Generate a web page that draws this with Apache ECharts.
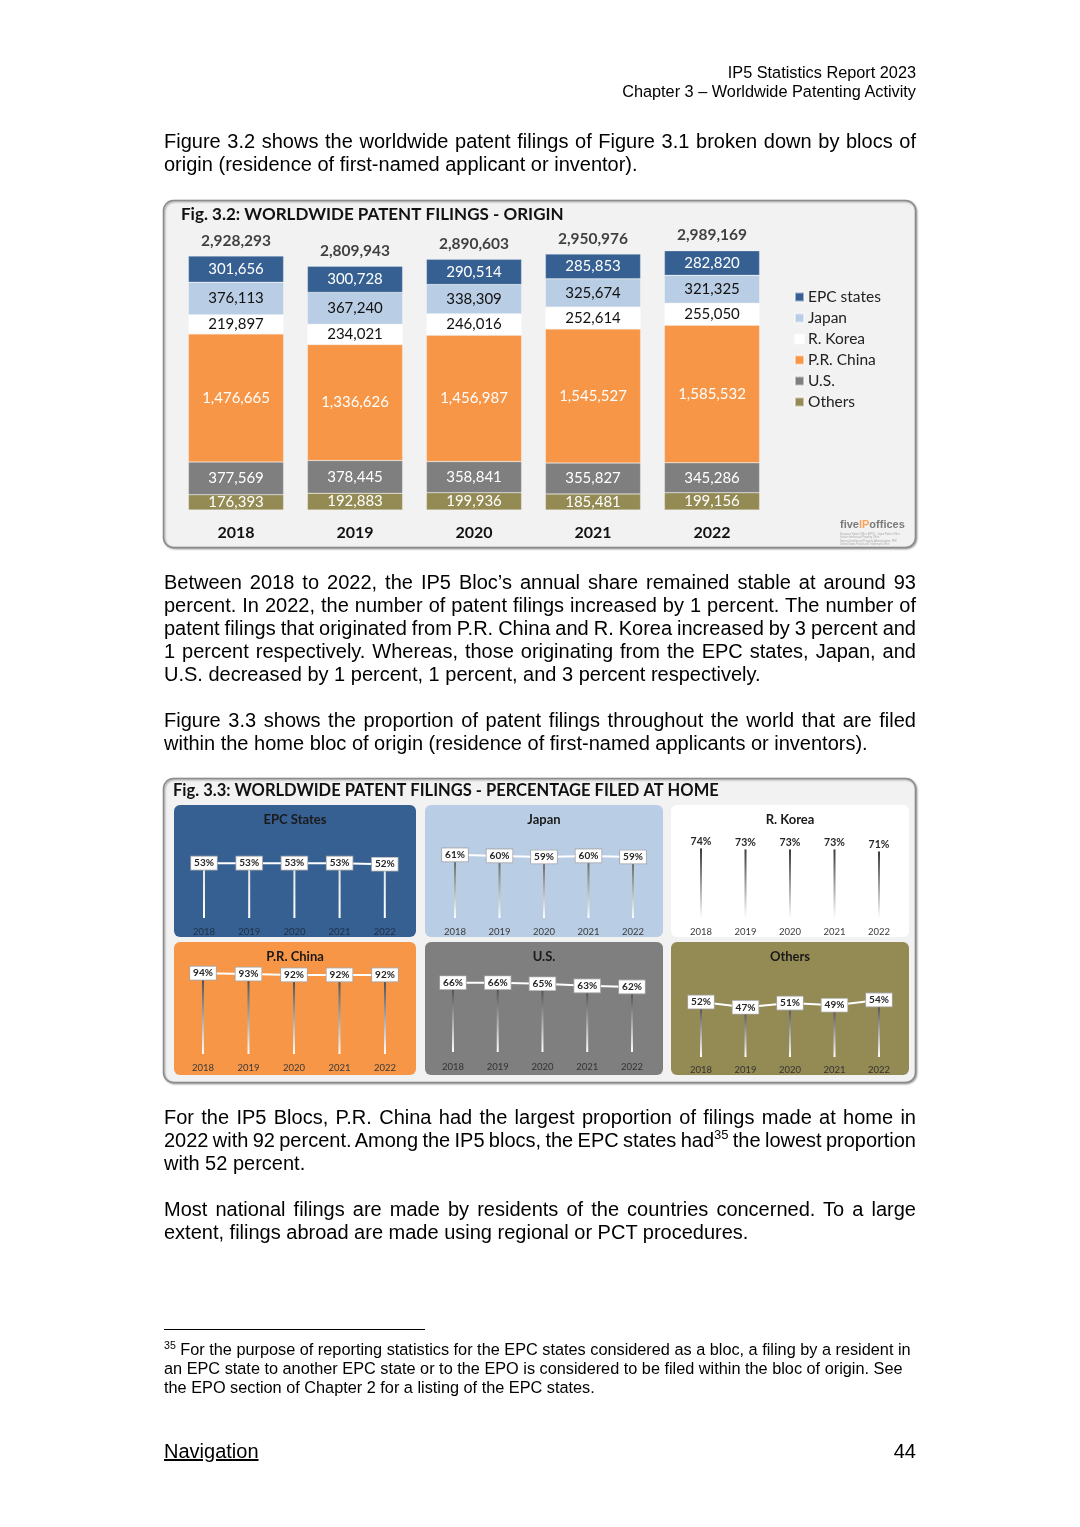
<!DOCTYPE html>
<html><head><meta charset="utf-8">
<script src="https://cdn.jsdelivr.net/npm/echarts@6/dist/echarts.min.js"></script>
<style>
html,body{margin:0;padding:0;background:#fff;}
body{width:1080px;height:1527px;position:relative;overflow:hidden;}
#chart{position:absolute;left:0;top:0;width:1080px;height:1527px;z-index:1;}
.t{position:absolute;z-index:2;font-family:'Liberation Sans',Arial,sans-serif;color:#000;}
.l{left:164px;width:752px;height:23px;line-height:23px;font-size:20px;}
.j{text-align:justify;text-align-last:justify;word-spacing:-4px;}
.h{right:164px;font-size:16.3px;height:19px;line-height:19px;text-align:right;white-space:nowrap;}
.f{left:164px;width:800px;font-size:16.3px;height:19px;line-height:19px;white-space:nowrap;}
sup{font-size:65%;vertical-align:super;line-height:0;}
</style></head>
<body>
<div class="t h" style="top:63px">IP5 Statistics Report 2023</div>
<div class="t h" style="top:82px">Chapter 3 – Worldwide Patenting Activity</div>

<div class="t l j" style="top:130px">Figure 3.2 shows the worldwide patent filings of Figure 3.1 broken down by blocs of</div>
<div class="t l" style="top:153px">origin (residence of first-named applicant or inventor).</div>

<div class="t l j" style="top:571px">Between 2018 to 2022, the IP5 Bloc’s annual share remained stable at around 93</div>
<div class="t l j" style="top:594px">percent. In 2022, the number of patent filings increased by 1 percent. The number of</div>
<div class="t l j" style="top:617px">patent filings that originated from P.R. China and R. Korea increased by 3 percent and</div>
<div class="t l j" style="top:640px">1 percent respectively. Whereas, those originating from the EPC states, Japan, and</div>
<div class="t l" style="top:663px">U.S. decreased by 1 percent, 1 percent, and 3 percent respectively.</div>

<div class="t l j" style="top:709px">Figure 3.3 shows the proportion of patent filings throughout the world that are filed</div>
<div class="t l" style="top:732px">within the home bloc of origin (residence of first-named applicants or inventors).</div>

<div class="t l j" style="top:1106px">For the IP5 Blocs, P.R. China had the largest proportion of filings made at home in</div>
<div class="t l j" style="top:1129px">2022 with 92 percent. Among the IP5 blocs, the EPC states had<sup>35</sup> the lowest proportion</div>
<div class="t l" style="top:1152px">with 52 percent.</div>

<div class="t l j" style="top:1198px">Most national filings are made by residents of the countries concerned. To a large</div>
<div class="t l" style="top:1221px">extent, filings abroad are made using regional or PCT procedures.</div>

<div style="position:absolute;left:164px;top:1329px;width:261px;height:1px;background:#000;z-index:2"></div>
<div class="t f" style="top:1340px"><sup>35</sup> For the purpose of reporting statistics for the EPC states considered as a bloc, a filing by a resident in</div>
<div class="t f" style="top:1359px">an EPC state to another EPC state or to the EPO is considered to be filed within the bloc of origin. See</div>
<div class="t f" style="top:1378px">the EPO section of Chapter 2 for a listing of the EPC states.</div>

<div class="t l" style="top:1440px;width:200px;text-decoration:underline;">Navigation</div>
<div class="t l" style="top:1440px;text-align:right;">44</div>

<div id="chart"></div>
<script>
// ---- Fig 3.2 data ----
const years = ['2018', '2019', '2020', '2021', '2022'];
const epcStates = [301656, 300728, 290514, 285853, 282820];
const japan = [376113, 367240, 338309, 325674, 321325];
const korea = [219897, 234021, 246016, 252614, 255050];
const china = [1476665, 1336626, 1456987, 1545527, 1585532];
const us = [377569, 378445, 358841, 355827, 345286];
const others = [176393, 192883, 199936, 185481, 199156];
const totals = [2928293, 2809943, 2890603, 2950976, 2989169];

// ---- Fig 3.3 data (percentage filed at home) ----
const homeEPC = [53, 53, 53, 53, 52];
const homeJapan = [61, 60, 59, 60, 59];
const homeKorea = [74, 73, 73, 73, 71];
const homeChina = [94, 93, 92, 92, 92];
const homeUS = [66, 66, 65, 63, 62];
const homeOthers = [52, 47, 51, 49, 54];

const fmt = v => String(v).replace(/\B(?=(\d{3})+(?!\d))/g, ',');
const FONT = 'Lato, "Open Sans", sans-serif';

const chart = echarts.init(document.getElementById('chart'), null, {renderer: 'canvas'});

const grids = [], xAxes = [], yAxes = [], series = [];
// main grid fig 3.2
grids.push({left: 176.5, width: 595, top: 223.8, height: 286.2});
xAxes.push({gridIndex: 0, type: 'category', data: years, axisLine: {show: false}, axisTick: {show: false},
  axisLabel: {fontFamily: FONT, fontWeight: 'bold', fontSize: 16, color: '#111', margin: 15}});
yAxes.push({gridIndex: 0, type: 'value', min: 0, max: 3300000, show: false, splitLine: {show: false}});

const stackDefs = [
  ['Others', others, '#948a54', '#fff'],
  ['U.S.', us, '#7f7f7f', '#fff'],
  ['P.R. China', china, '#f79646', '#fff'],
  ['R. Korea', korea, '#ffffff', '#111'],
  ['Japan', japan, '#b9cde5', '#111'],
  ['EPC states', epcStates, '#366092', '#fff']
];
stackDefs.forEach(([name, data, color, tc]) => {
  series.push({
    name, type: 'bar', stack: 'all', data, xAxisIndex: 0, yAxisIndex: 0, barWidth: '80%',
    itemStyle: {color, borderColor: 'rgba(255,255,255,0.5)', borderWidth: 0.5},
    label: {show: true, position: 'inside', color: tc, fontFamily: FONT, fontSize: 15, formatter: p => fmt(p.value)},
    emphasis: {disabled: true}, silent: true
  });
});
series.push({
  type: 'scatter', data: totals, xAxisIndex: 0, yAxisIndex: 0, symbolSize: 1,
  itemStyle: {color: 'transparent'}, silent: true,
  label: {show: true, position: 'top', distance: 7, color: '#111', fontFamily: FONT, fontWeight: 'bold', fontSize: 15.5, formatter: p => fmt(p.value)}
});

// panels fig 3.3
const panels = [
  {name: 'EPC States', data: homeEPC, bg: '#366092', px: 174, py: 805, pw: 242, ph: 132, left: 181.4, width: 226, top: 814.5, height: 103.5, lineTop: '#e0e0e0', margin: 9, box: true, yc: '#1f2f44'},
  {name: 'Japan', data: homeJapan, bg: '#b9cde5', px: 425, py: 805, pw: 238, ph: 132, left: 432.75, width: 222.5, top: 814.5, height: 103.5, lineTop: '#595959', margin: 9, box: true, yc: '#3a3a3a'},
  {name: 'R. Korea', data: homeKorea, bg: '#ffffff', px: 671, py: 805, pw: 238, ph: 132, left: 678.75, width: 222.5, top: 814.5, height: 103.5, lineTop: '#262626', margin: 9, box: false, yc: '#3a3a3a'},
  {name: 'P.R. China', data: homeChina, bg: '#f79646', px: 174, py: 942, pw: 242, ph: 133, left: 180.25, width: 227.5, top: 968, height: 86, lineTop: '#404040', margin: 9, box: true, yc: '#3a3a3a'},
  {name: 'U.S.', data: homeUS, bg: '#7f7f7f', px: 425, py: 942, pw: 238, ph: 133, left: 430.6, width: 223.75, top: 947, height: 105, lineTop: '#404040', margin: 10, box: true, yc: '#333'},
  {name: 'Others', data: homeOthers, bg: '#948a54', px: 671, py: 942, pw: 238, ph: 133, left: 678.75, width: 222.5, top: 951.3, height: 105.7, lineTop: '#404040', margin: 8, box: true, yc: '#333'}
];

const graphics = [
  {type: 'rect', z: -10, shape: {x: 163.5, y: 200.5, width: 752, height: 347, r: 10},
   style: {fill: '#f2f2f2', stroke: '#8c8c8c', lineWidth: 1.5, shadowBlur: 2, shadowOffsetX: 1, shadowOffsetY: 1, shadowColor: 'rgba(0,0,0,0.35)'}},
  {type: 'text', z: 50, style: {text: 'Fig. 3.2: WORLDWIDE PATENT FILINGS - ORIGIN', x: 181, y: 215, textVerticalAlign: 'middle', font: 'bold 17px ' + FONT, fill: '#111'}},
  {type: 'text', z: 50, style: {text: '{a|five}{b|IP}{a|offices}', x: 840, y: 525, textVerticalAlign: 'middle',
    rich: {a: {font: 'bold 11px "Liberation Sans", Arial', fill: '#7a7a7a', color: '#7a7a7a'}, b: {font: 'bold 11px "Liberation Sans", Arial', fill: '#f8a55c', color: '#f8a55c'}}}},
  {type: 'rect', z: -10, shape: {x: 163.5, y: 778.5, width: 752, height: 304, r: 10},
   style: {fill: '#f2f2f2', stroke: '#8c8c8c', lineWidth: 1.5, shadowBlur: 2, shadowOffsetX: 1, shadowOffsetY: 1, shadowColor: 'rgba(0,0,0,0.35)'}},
  {type: 'text', z: 50, style: {text: 'Fig. 3.3: WORLDWIDE PATENT FILINGS - PERCENTAGE FILED AT HOME', x: 173, y: 791, textVerticalAlign: 'middle', font: 'bold 16.5px ' + FONT, fill: '#111'}}
];
// tiny lines under logo
['European Patent Office (EPO) · Japan Patent Office', 'Korean Intellectual Property Office', 'National Intellectual Property Administration, PRC', 'United States Patent and Trademark Office'].forEach((s, i) => {
  graphics.push({type: 'text', z: 50, style: {text: s, x: 840, y: 533 + i * 3.2, font: '2.6px "Liberation Sans", Arial', fill: '#aaa'}});
});

panels.forEach((p, k) => {
  const gi = k + 1;
  graphics.push({type: 'rect', z: -5, shape: {x: p.px, y: p.py, width: p.pw, height: p.ph, r: 6}, style: {fill: p.bg}});
  graphics.push({type: 'text', z: 50, style: {text: p.name, x: p.px + p.pw / 2, y: p.py + 15, textAlign: 'center', textVerticalAlign: 'middle', font: 'bold 13px ' + FONT, fill: '#1a1a1a'}});
  grids.push({left: p.left, width: p.width, top: p.top, height: p.height});
  xAxes.push({gridIndex: gi, type: 'category', data: years, axisLine: {show: false}, axisTick: {show: false},
    axisLabel: {fontFamily: FONT, fontSize: 9.5, color: p.yc, margin: p.margin}});
  yAxes.push({gridIndex: gi, type: 'value', min: 0, max: 100, show: false, splitLine: {show: false}});
  series.push({
    type: 'bar', data: p.data, xAxisIndex: gi, yAxisIndex: gi, barWidth: 2, silent: true, z: 2,
    itemStyle: {color: new echarts.graphic.LinearGradient(0, 0, 0, 1, [{offset: 0, color: p.lineTop}, {offset: 1, color: '#ffffff'}])}
  });
  series.push({
    type: 'line', data: p.data, xAxisIndex: gi, yAxisIndex: gi, silent: true, z: 4,
    symbol: 'circle', symbolSize: 1, itemStyle: {color: '#fff'},
    lineStyle: {color: '#ffffff', width: 2},
    label: {show: true, position: 'inside', formatter: '{c}%', fontFamily: FONT, fontWeight: 'bold',
      fontSize: p.box ? 10 : 10.5, color: '#262626', backgroundColor: '#ffffff',
      borderColor: p.box ? '#a6a6a6' : 'transparent', borderWidth: p.box ? 0.8 : 0, padding: [2, 3, 1, 3]}
  });
});

chart.setOption({
  animation: false,
  grid: grids, xAxis: xAxes, yAxis: yAxes, series,
  legend: {
    data: ['EPC states', 'Japan', 'R. Korea', 'P.R. China', 'U.S.', 'Others'],
    orient: 'vertical', left: 789, top: 284, itemWidth: 9, itemHeight: 9, itemGap: 5, icon: 'rect',
    textStyle: {fontFamily: FONT, fontSize: 15.5, color: '#222', lineHeight: 15, padding: [0, 0, 0, -1]},
    selectedMode: false
  },
  graphic: {elements: graphics}
});
</script>
</body></html>
